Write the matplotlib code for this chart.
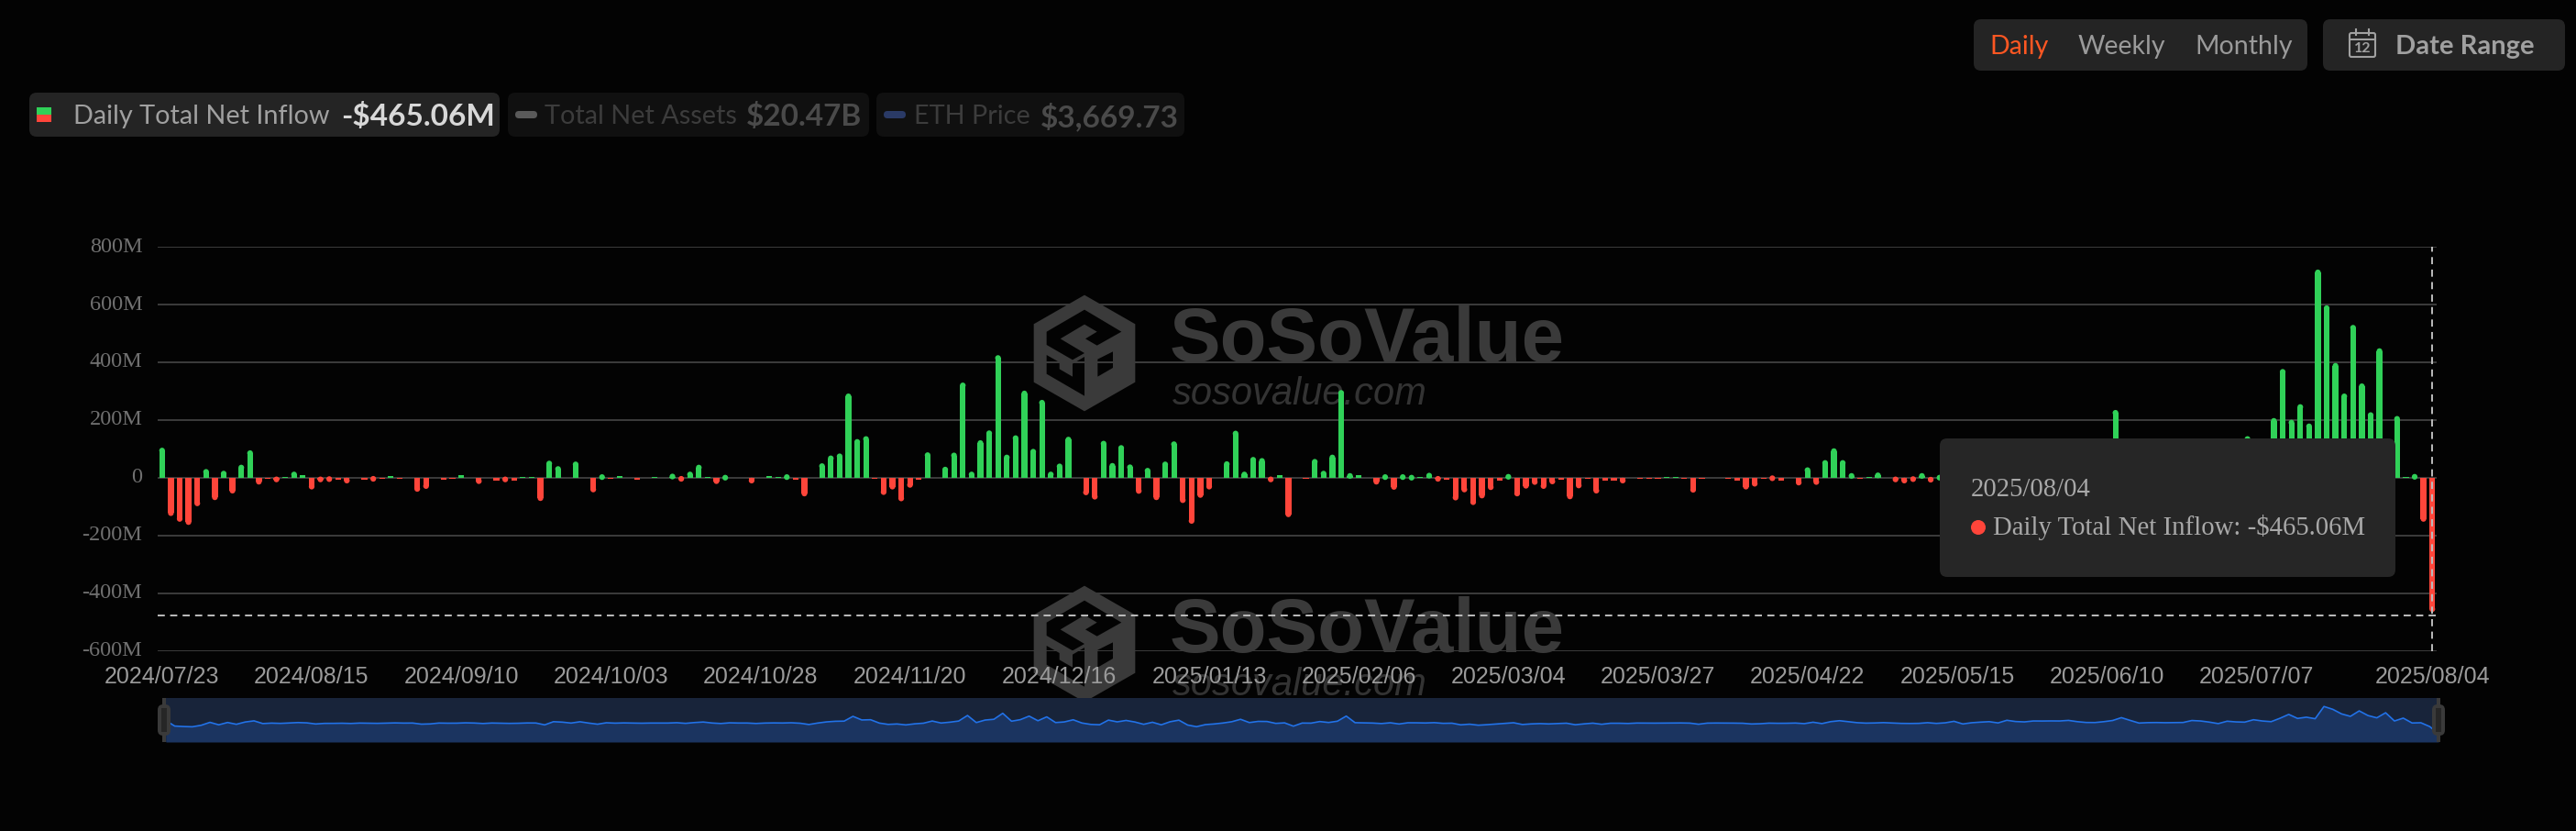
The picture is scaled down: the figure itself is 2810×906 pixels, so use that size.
import matplotlib
matplotlib.use('Agg')
import matplotlib.pyplot as plt
from matplotlib.patches import FancyBboxPatch, Polygon, Circle, Rectangle
from matplotlib.transforms import ScaledTranslation
import numpy as np

# Daily total net inflow in $M (203-253 partly from the minimap, behind the tooltip)
inflow = [
    104, -132, -152, -163, -98, 30, -77, 24, -54, 45,
    95, -23, -3, -15, 3, 21, 8, -40, -15, -14,
    -8, -19, -1, -6, -13, -4, 6, -2, 0.5, -48,
    -38, 0, -6, -5, 9, 1, -21, 1, -9, -15,
    -9, 4, 2, -80, 59, 40, -1, 56, -1, -50,
    12, -4, 6, 0, -7, 0, 2, 0, 14, -13,
    21, 45, 2, -21, 10, 1, 1, -19, 0, 6,
    2, 12, -8, -64, 0, 50, 77, 84, 292, 134,
    144, -2, -59, -40, -81, -34, -7, 88, 1, 38,
    87, 330, 21, 130, 164, 425, 80, 147, 302, 100,
    270, 21, 49, 142, 1, -60, -75, 128, 51, 113,
    46, -55, 34, -77, 56, 126, -87, -159, -69, -40,
    1, 57, 163, 21, 72, 68, -15, 8, -136, 0,
    -4, 65, 24, 80, 304, 16, 9, 0, -23, 12,
    -41, 12, 10, 3, 17, -13, -6, -78, -50, -94,
    -71, -42, -9, 13, -64, -37, -24, -38, -22, -7,
    -74, -36, -5, -54, -9, -9, -19, 0, -3, -4,
    -2, 2, 4, -3, -51, -3, 1, 0, -3, -9,
    -40, -30, -4, -11, -9, 0, -26, 36, -24, 61,
    102, 61, 16, -3, 4, 18, 0, -15, -19, -14,
    16, -16, 10, 75, -40, 13, 40, 60, 5, 120,
    66, 50, 90, 88, 92, 90, 115, 60, 25, 22,
    60, 110, 235, 115, 0, 18, 22, 15, 20, 24,
    110, 90, 40, -25, 80, 50, 40, 144, 90, 60,
    207, 377, 201, 255, 188, 722, 598, 398, 292, 530,
    327, 227, 449, 90, 214, 3, 13, -152, -465,
]

date_ticks = [0, 17, 34, 51, 68, 85, 102, 119, 136, 153, 170, 187, 204, 221, 238, 258]
date_labels = ['2024/07/23', '2024/08/15', '2024/09/10', '2024/10/03', '2024/10/28', '2024/11/20',
               '2024/12/16', '2025/01/13', '2025/02/06', '2025/03/04', '2025/03/27', '2025/04/22',
               '2025/05/15', '2025/06/10', '2025/07/07', '2025/08/04']
y_ticks = [800, 600, 400, 200, 0, -200, -400, -600]
y_labels = ['800M', '600M', '400M', '200M', '0', '-200M', '-400M', '-600M']
cursor_value = -477

W, H = 2810, 906
BG = '#030303'
GREEN = '#30d158'
RED = '#ff453a'
GRID = '#3a3a3a'
MARK = '#3a3a3a'


def axes_px(left, top, right, bottom, **kw):
    return fig.add_axes([left / W, 1 - bottom / H, (right - left) / W, (bottom - top) / H], **kw)


def pill(ax, x0, y0, x1, y1, color, r=8, z=1):
    ax.add_patch(FancyBboxPatch((x0, y0), x1 - x0, y1 - y0, boxstyle=f'round,pad=0,rounding_size={r}',
                                fc=color, ec='none', zorder=z))


fig = plt.figure(figsize=(W / 100, H / 100), dpi=100, facecolor=BG)

# background layer in pixels: watermarks
bg = axes_px(0, 0, W, H, zorder=0)
bg.set_xlim(0, W)
bg.set_ylim(H, 0)
bg.axis('off')

outer = [(204, 20), (370, 115), (370, 305), (204, 400), (38, 305), (38, 115)]
cut_a = [(204, 68), (325, 140), (245, 185), (207, 163), (245, 140), (204, 116), (125, 163), (204, 210),
         (165, 232), (80, 183), (80, 140)]
cut_b = [(80, 216), (122, 240), (122, 262), (165, 287), (165, 245), (204, 222), (204, 350), (80, 278)]
cut_c = [(247, 230), (297, 205), (297, 258), (247, 287)]
for dy in [0, 317]:
    for shape, col in [(outer, MARK), (cut_a, BG), (cut_b, BG), (cut_c, BG)]:
        pts = [(1115 + a / 3, 315 + dy + b / 3) for a, b in shape]
        bg.add_patch(Polygon(pts, closed=True, fc=col, ec='none'))
    bg.text(1276, 372 + dy, 'SoSoValue', family='Liberation Sans', weight='bold', fontsize=60,
            color=MARK, ha='left', va='center')
    bg.text(1279, 430 + dy, 'sosovalue.com', family='Liberation Sans', style='italic', fontsize=30,
            color='#333333', ha='left', va='center')

# main chart
ax = axes_px(172, 269.5, 2658, 709.5, zorder=1)
ax.patch.set_alpha(0)
x = np.arange(len(inflow))
v = np.array(inflow, dtype=float)
cap = 9.5  # rounded tip radius in $M
big = np.abs(v) >= cap
body = np.where(big, v - np.sign(v) * cap, v)
colors = [GREEN if a >= 0 else RED for a in v]
ax.bar(x, body, width=0.65, color=colors, linewidth=0, zorder=3)
ax.scatter(x[big], body[big], s=20, c=[c for c, b in zip(colors, big) if b], linewidths=0, zorder=3)
ax.set_xlim(-0.5, len(inflow) - 0.5)
ax.set_ylim(-600, 800)
ax.set_yticks(y_ticks)
ax.set_yticklabels(y_labels, family='Liberation Serif', fontsize=17.5, color='#707070')
ax.set_xticks(date_ticks)
ax.set_xticklabels(date_labels, family='Liberation Sans', fontsize=18, color='#9a9a9a')
ax.tick_params(axis='both', length=0)
ax.tick_params(axis='y', pad=12)
ax.tick_params(axis='x', pad=12)
for lab in ax.get_yticklabels():
    lab.set_transform(lab.get_transform() + ScaledTranslation(0, 2 / 72, fig.dpi_scale_trans))
ax.grid(axis='y', color=GRID, lw=1.44, zorder=1)
ax.grid(axis='x', visible=False)
for s in ax.spines.values():
    s.set_visible(False)
ax.axhline(cursor_value, color='#bdbdbd', lw=1.4, dashes=(4, 3), zorder=4)
ax.axvline(x[-1], color='#bdbdbd', lw=1.4, dashes=(4, 3), zorder=4)

# minimap
mini = axes_px(181, 761, 2660, 809, zorder=2)
mini.set_facecolor('#18243a')
mini.plot(x, v, color='#2272e8', lw=1.2, zorder=3)
mini.fill_between(x, v, -828, color='#1b3460', lw=0, zorder=2)
mini.set_xlim(0, len(inflow) - 1)
mini.set_ylim(-828, 1092)
mini.set_xticks([])
mini.set_yticks([])
for s in mini.spines.values():
    s.set_visible(False)

# top layer in pixels: tooltip, legend pills, buttons
top = axes_px(0, 0, W, H, zorder=3)
top.set_xlim(0, W)
top.set_ylim(H, 0)
top.axis('off')

for hx in [179, 2660]:
    top.add_patch(Rectangle((hx - 2, 761), 4, 48, fc='#3a3a3a', ec='none', zorder=1))
    pill(top, hx - 7, 768, hx + 7, 802, '#3a3a3a', r=6, z=2)
    top.add_patch(Rectangle((hx - 3, 772), 6, 26, fc='#262626', ec='none', zorder=3))

# tooltip
pill(top, 2116, 478, 2613, 629, '#262626', r=8)
top.text(2150, 534, '2025/08/04', family='Liberation Serif', fontsize=20.7, color='#a8a8a8', va='center', zorder=3)
top.add_patch(Circle((2158, 575), 8, fc=RED, ec='none', zorder=3))
top.text(2174, 575, 'Daily Total Net Inflow: -$465.06M', family='Liberation Serif', fontsize=20.7,
         color='#a8a8a8', va='center', zorder=3)

# legend pills
pill(top, 32, 101, 545, 149, '#242424')
top.add_patch(Rectangle((40, 117), 16, 8, fc=GREEN, ec='none', zorder=2))
top.add_patch(Rectangle((40, 125), 16, 8, fc=RED, ec='none', zorder=2))
top.text(80, 127, 'Daily Total Net Inflow', family='Lato', fontsize=20.8, color='#a0a0a0', va='center', zorder=3)
top.text(372, 127, '-$465.06M', family='Lato', fontsize=24, weight='bold', color='#d8d8d8', va='center', zorder=3)

pill(top, 554, 101, 948, 149, '#101010')
pill(top, 562, 121, 586, 129, '#5a5a5a', r=4, z=2)
top.text(594, 127, 'Total Net Assets', family='Lato', fontsize=20.8, color='#3c3c3c', va='center', zorder=3)
top.text(814, 127, '$20.47B', family='Lato', fontsize=24, weight='bold', color='#4a4a4a', va='center', zorder=3)

pill(top, 956, 101, 1292, 149, '#101010')
pill(top, 964, 121, 988, 129, '#2a3a66', r=4, z=2)
top.text(997, 127, 'ETH Price', family='Lato', fontsize=20.8, color='#3c3c3c', va='center', zorder=3)
top.text(1135, 127, '$3,669.73', family='Lato', fontsize=24, weight='bold', color='#4a4a4a', va='center', zorder=3)

# period buttons
pill(top, 2153, 21, 2517, 77, '#242424')
pill(top, 2534, 21, 2798, 77, '#242424')
top.text(2170, 51.5, 'Daily', family='Lato', fontsize=20.5, color='#ff5722', va='center', zorder=3)
top.text(2267, 51.5, 'Weekly', family='Lato', fontsize=20.5, color='#9a9a9a', va='center', zorder=3)
top.text(2394, 51.5, 'Monthly', family='Lato', fontsize=20.5, color='#9a9a9a', va='center', zorder=3)
top.text(2613, 51.5, 'Date Range', family='Lato', fontsize=21, weight='bold', color='#a0a0a0', va='center', zorder=3)

# calendar icon
top.add_patch(FancyBboxPatch((2563, 36), 28, 26, boxstyle='round,pad=0,rounding_size=2', fc='none',
                             ec='#a0a0a0', lw=1.5, zorder=3))
top.plot([2563, 2591], [43, 43], color='#a0a0a0', lw=1.5, zorder=3)
top.plot([2570, 2570], [32, 38], color='#a0a0a0', lw=1.5, zorder=3)
top.plot([2584, 2584], [32, 38], color='#a0a0a0', lw=1.5, zorder=3)
top.text(2577, 53, '12', family='Lato', fontsize=11.5, weight='bold', color='#a0a0a0', ha='center', va='center', zorder=3)

fig.savefig('out.png', dpi=100, facecolor=BG)
